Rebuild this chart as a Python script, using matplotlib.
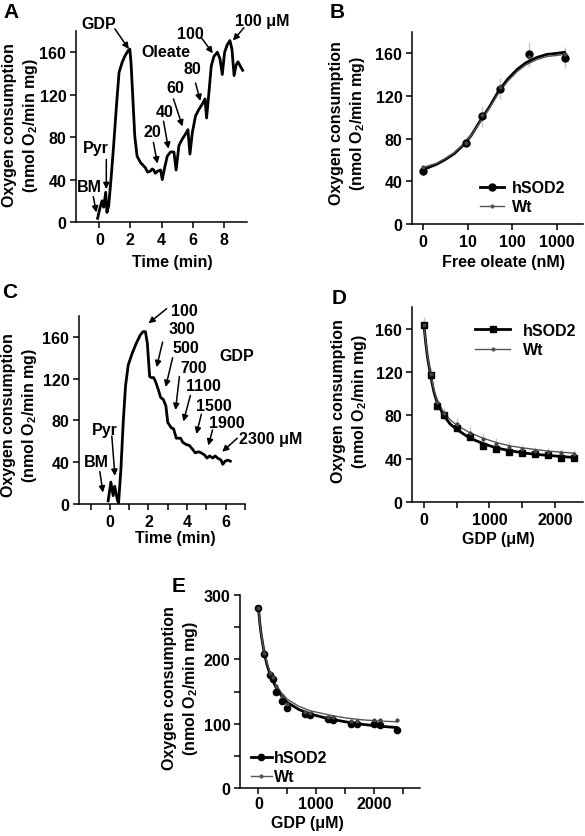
import matplotlib.pyplot as plt
from matplotlib.ticker import NullFormatter

plt.rcParams['font.family'] = ['Liberation Sans', 'DejaVu Sans']
plt.rcParams['font.weight'] = 'bold'
plt.rcParams['mathtext.fontset'] = 'custom'
plt.rcParams['mathtext.rm'] = 'Liberation Sans:bold'
plt.rcParams['mathtext.it'] = 'Liberation Sans:bold'
plt.rcParams['mathtext.bf'] = 'Liberation Sans:bold'
plt.rcParams['axes.linewidth'] = 1.1

# --- A: oxygen trace, oleate titration (time in min, nmol O2/min mg)
a_time = [-0.11, 0.02, 0.17, 0.28, 0.41, 0.49, 0.6, 0.75, 0.92, 1.1, 1.27, 1.46,
          1.63, 1.83, 1.96, 2.04, 2.17, 2.28, 2.43, 2.65, 2.97, 3.1, 3.29, 3.4,
          3.5, 3.6, 3.76, 3.94, 4.05, 4.2, 4.37, 4.58, 4.8, 4.94, 5.12, 5.33,
          5.55, 5.7, 5.83, 5.98, 6.19, 6.4, 6.62, 6.8, 6.9, 7.05, 7.2, 7.37,
          7.59, 7.76, 7.91, 8.06, 8.23, 8.4, 8.53, 8.67, 8.8, 8.92, 9.1, 9.22]
a_o2 = [3.5, 12, 20, 14, 28, 9, 15, 40, 72, 109, 141, 150,
        156, 161, 163, 150, 113, 81, 62, 56, 51, 47, 48, 50,
        49, 46, 48, 49, 40, 51, 62, 66, 66, 49, 72, 78,
        83, 87, 64, 84, 100, 106, 111, 116, 98, 122, 147, 156,
        160, 154, 139, 160, 167, 171, 163, 138, 148, 151, 146, 143]

# --- B: free oleate titration
b_oleate = [1, 9, 21, 54, 235, 1500]
b_hsod2 = [50, 76, 101, 127, 159, 156]
b_wt = [53, 76, 102, 128, 157, 159]
b_err = [5, 4, 10, 10, 12, 10]
b_fit_x = [1, 2, 3, 5, 8, 12, 20, 30, 50, 80, 130, 200, 350, 600, 1000, 1500]
b_fit_hsod2 = [51, 56, 60, 66, 74, 83, 98, 109, 125, 136, 145, 151, 156, 159, 160, 161]
b_fit_wt = [53, 57, 61, 67, 75, 83, 97, 108, 123, 134, 143, 149, 154, 157, 158, 159]

# --- C: oxygen trace, GDP titration
c_time = [-0.09, 0.05, 0.17, 0.25, 0.4, 0.45, 0.57, 0.69, 0.81, 0.95, 1.15, 1.37,
          1.58, 1.72, 1.84, 1.94, 2.06, 2.15, 2.27, 2.37, 2.5, 2.63, 2.77, 2.9,
          3.0, 3.18, 3.3, 3.44, 3.66, 3.78, 3.95, 4.12, 4.3, 4.42, 4.59, 4.73,
          4.9, 5.03, 5.17, 5.33, 5.45, 5.58, 5.76, 5.85, 5.97, 6.1, 6.24]
c_o2 = [3, 21, 8, 17, 3, 1, 33, 78, 113, 133, 144, 154,
        162, 165, 165, 154, 122, 121, 121, 117, 110, 102, 100, 94,
        78, 73, 72, 63, 63, 59, 57, 56, 52, 49, 50, 49,
        47, 44, 46, 44, 46, 44, 42, 38, 41, 42, 41]

# --- D: GDP titration
d_gdp = [0, 100, 200, 300, 500, 700, 900, 1100, 1300, 1500, 1700, 1900, 2100, 2300]
d_hsod2 = [163, 117, 89, 80, 68, 60, 52, 49, 46, 45, 44, 43, 41, 41]
d_wt = [163, 118, 92, 82, 72, 64, 58, 54, 51, 49, 47, 46, 45, 44]
d_err = [8, 6, 5, 5, 6, 6, 6, 5, 5, 4, 4, 4, 4, 4]
d_fit_x = [0, 25, 50, 100, 150, 200, 300, 400, 500, 700, 900, 1100, 1300, 1500, 1700, 1900, 2100, 2300]
d_fit_hsod2 = [163, 148, 135, 117, 102, 92, 80, 72, 67, 59, 54, 50, 47.5, 45.5, 44, 43, 42, 41]
d_fit_wt = [163, 149, 136, 119, 104, 94, 83, 76, 71, 64, 59, 55, 52, 50, 48.5, 47, 46, 45]

# --- E: GDP titration, second set
e_gdp = [0, 100, 200, 250, 300, 400, 500, 800, 900, 1200, 1300, 1600, 1700, 2000, 2100, 2400]
e_hsod2 = [280, 209, 176, 170, 150, 135, 125, 115, 113, 108, 105, 100, 100, 100, 98, 90]
e_wt = [280, 210, 178, 172, 158, 143, 130, 118, 117, 110, 110, 104, 104, 106, 106, 106]
e_fit_x = [0, 25, 50, 100, 150, 200, 300, 400, 500, 700, 900, 1200, 1500, 1800, 2100, 2400]
e_fit_hsod2 = [280, 255, 237, 210, 191, 177, 157, 143, 133, 122, 115, 108, 103, 99, 96, 94]
e_fit_wt = [280, 256, 238, 212, 194, 180, 161, 148, 138, 127, 120, 114, 109, 106, 104, 103]

FS = 11.5
W, H = 585, 837
fig = plt.figure(figsize=(W / 100, H / 100), dpi=100)


def add_ax(l, r, b, t):
    ax = fig.add_axes([l / W, 1 - b / H, (r - l) / W, (b - t) / H])
    ax.spines['top'].set_visible(False)
    ax.spines['right'].set_visible(False)
    ax.tick_params(labelsize=FS, length=4, width=1.1, pad=3)
    ax.tick_params(which='minor', length=2.5, width=0.8)
    return ax


def ftext(x, y, s, **kw):
    fig.text(x / W, 1 - y / H, s, fontsize=FS, fontweight='bold', ha='center', va='center', **kw)


def ylab(x, y):
    ftext(x, y, 'Oxygen consumption\n(nmol O$_2$/min mg)', rotation=90, linespacing=1.35)


def arrow(ax, tail, tip):
    ax.annotate('', xy=tip, xytext=tail, annotation_clip=False,
                arrowprops=dict(arrowstyle='-|>', color='black', lw=1.1,
                                mutation_scale=9, shrinkA=0, shrinkB=0))


def label(ax, x, y, s):
    ax.text(x, y, s, fontsize=FS, fontweight='bold', ha='center', va='center', clip_on=False)


# ---------------- A
ax = add_ax(76, 247, 223, 32)
ax.plot(a_time, a_o2, color='black', lw=2)
ax.set_xlim(-1.5, 9.5)
ax.set_ylim(0, 180)
ax.set_xticks([0, 2, 4, 6, 8])
ax.set_yticks([0, 40, 80, 120, 160])
for s, txt, tail, tip in [
    ('GDP', (-0.06, 187), (1.0, 182), (1.9, 163)),
    ('Oleate', (4.26, 161), None, None),
    ('100', (5.87, 178), (6.6, 173), (7.3, 159)),
    ('100 \u03bcM', (10.5, 190), (9.3, 183), (8.6, 171)),
    ('80', (6.0, 145), (6.19, 131), (6.5, 114)),
    ('60', (4.9, 127), (4.77, 116), (5.35, 90)),
    ('40', (4.2, 104), (4.13, 95), (4.45, 69)),
    ('20', (3.4, 85), (3.48, 75), (3.74, 55)),
    ('Pyr', (-0.2, 70), (0.45, 59), (0.45, 31)),
    ('BM', (-0.65, 33), (-0.39, 24), (-0.19, 9)),
]:
    label(ax, txt[0], txt[1], s)
    if tail is not None:
        arrow(ax, tail, tip)
ylab(21, 125)
ftext(172, 262, 'Time (min)')
fig.text(3 / W, 1 - 12 / H, 'A', fontsize=15, fontweight='bold', va='center')

# ---------------- B
ax = add_ax(412, 583, 225, 33)
ax.set_xscale('log')
ax.errorbar(b_oleate, b_hsod2, yerr=b_err, fmt='none', ecolor='#c8c8c8', elinewidth=1, zorder=1)
ax.plot(b_fit_x, b_fit_hsod2, color='black', lw=2, zorder=3)
ax.plot(b_fit_x, b_fit_wt, color='#555555', lw=1, zorder=3)
ax.plot(b_oleate, b_hsod2, 'o', color='black', ms=5, zorder=4)
ax.plot(b_oleate, b_wt, '.', color='#444444', ms=4, zorder=4)
ax.plot([], [], '-o', color='black', lw=2, ms=5, label='hSOD2')
ax.plot([], [], marker='.', color='#555555', lw=1, ms=4, label='Wt')
ax.set_xlim(0.56, 3900)
ax.set_ylim(0, 180)
ax.set_xticks([1, 10, 100, 1000])
ax.set_xticklabels(['0', '10', '100', '1000'])
ax.xaxis.set_minor_formatter(NullFormatter())
ax.set_yticks([0, 40, 80, 120, 160])
ax.legend(loc='lower left', bbox_to_anchor=(0.4, 0.05), frameon=False, fontsize=FS,
          handlelength=1.5, handletextpad=0.5, labelspacing=0.25, borderpad=0, borderaxespad=0)
ylab(348, 123)
ftext(503, 262, 'Free oleate (nM)')
fig.text(330 / W, 1 - 12 / H, 'B', fontsize=15, fontweight='bold', va='center')

# ---------------- C
ax = add_ax(79, 245, 505, 317)
ax.plot(c_time, c_o2, color='black', lw=2)
ax.set_xlim(-1.6, 7)
ax.set_ylim(0, 180)
ax.set_xticks(range(-1, 8))
ax.set_xticklabels(['', '0', '', '2', '', '4', '', '6', ''])
ax.set_yticks([0, 40, 80, 120, 160])
for s, txt, tail, tip in [
    ('100', (3.87, 185), (2.94, 187), (2.0, 173)),
    ('300', (3.71, 168), (2.73, 155), (2.42, 131)),
    ('500', (3.92, 150), (3.25, 140), (2.89, 112)),
    ('700', (4.33, 131), (3.6, 122), (3.4, 90)),
    ('1100', (4.85, 113), (4.17, 104), (3.81, 79)),
    ('1500', (5.41, 94), (4.74, 86), (4.48, 67)),
    ('1900', (6.08, 78), (5.32, 71), (5.1, 56)),
    ('2300 \u03bcM', (8.35, 63), (6.6, 63), (5.82, 50)),
    ('GDP', (6.55, 142), None, None),
    ('Pyr', (-0.26, 71), (0.1, 65), (0.26, 27)),
    ('BM', (-0.72, 41), (-0.52, 31), (-0.36, 11)),
]:
    label(ax, txt[0], txt[1], s)
    if tail is not None:
        arrow(ax, tail, tip)
ylab(20, 415)
ftext(175, 538, 'Time (min)')
fig.text(2 / W, 1 - 293 / H, 'C', fontsize=15, fontweight='bold', va='center')

# ---------------- D
ax = add_ax(412, 583, 503, 308)
ax.errorbar(d_gdp, d_wt, yerr=d_err, fmt='none', ecolor='#c8c8c8', elinewidth=1, zorder=1)
ax.plot(d_fit_x, d_fit_hsod2, color='black', lw=2, zorder=3)
ax.plot(d_fit_x, d_fit_wt, color='#555555', lw=1, zorder=3)
ax.plot(d_gdp, d_hsod2, 's', color='black', ms=4.5, zorder=4)
ax.plot(d_gdp, d_wt, '.', color='#444444', ms=4, zorder=4)
ax.plot([], [], '-s', color='black', lw=2, ms=4.5, label='hSOD2')
ax.plot([], [], marker='.', color='#555555', lw=1, ms=4, label='Wt')
ax.set_xlim(-183, 2430)
ax.set_ylim(0, 180)
ax.set_xticks([0, 500, 1000, 1500, 2000])
ax.set_xticklabels(['0', '', '1000', '', '2000'])
ax.set_yticks([0, 40, 80, 120, 160])
ax.legend(loc='upper left', bbox_to_anchor=(0.37, 0.92), frameon=False, fontsize=FS,
          handlelength=2.2, handletextpad=0.8, labelspacing=0.3, borderpad=0, borderaxespad=0)
ylab(350, 401)
ftext(498, 540, 'GDP (\u03bcM)')
fig.text(332 / W, 1 - 299 / H, 'D', fontsize=15, fontweight='bold', va='center')

# ---------------- E
ax = add_ax(240, 420, 789, 596)
ax.tick_params(axis='x', pad=1.5)
ax.plot(e_fit_x, e_fit_hsod2, color='black', lw=2, zorder=3)
ax.plot(e_fit_x, e_fit_wt, color='#555555', lw=1, zorder=3)
ax.plot(e_gdp, e_hsod2, 'o', color='black', ms=4.5, zorder=4)
ax.plot(e_gdp, e_wt, '.', color='#444444', ms=4, zorder=4)
ax.plot([], [], '-o', color='black', lw=2, ms=4.5, label='hSOD2')
ax.plot([], [], marker='.', color='#555555', lw=1, ms=4, label='Wt')
ax.set_xlim(-320, 2800)
ax.set_ylim(0, 300)
ax.set_xticks([0, 500, 1000, 1500, 2000, 2500])
ax.set_xticklabels(['0', '', '1000', '', '2000', ''])
ax.set_yticks([0, 50, 100, 150, 200, 250, 300])
ax.set_yticklabels(['0', '', '100', '', '200', '', '300'])
ax.legend(loc='lower left', bbox_to_anchor=(0.06, 0.02), frameon=False, fontsize=FS,
          handlelength=1.3, handletextpad=0.15, labelspacing=0.25, borderpad=0, borderaxespad=0)
ylab(181, 688)
ftext(307, 824, 'GDP (\u03bcM)')
fig.text(172 / W, 1 - 587 / H, 'E', fontsize=15, fontweight='bold', va='center')

fig.savefig('out.png', dpi=100)
